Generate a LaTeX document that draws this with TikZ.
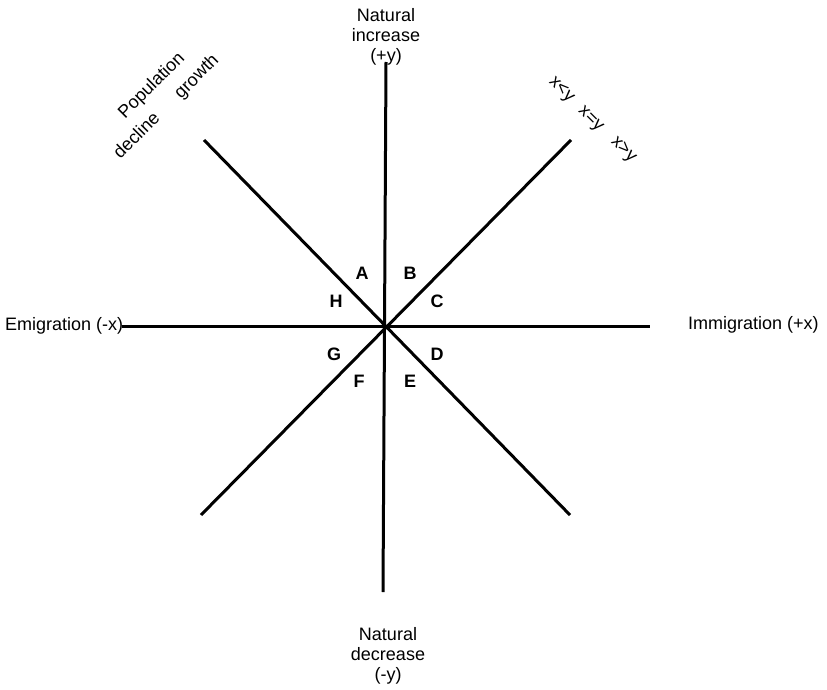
\documentclass[tikz,border=0pt]{standalone}
\usepackage{fontspec}
\setmainfont{Liberation Sans}
\begin{document}
\begin{tikzpicture}[x=1pt,y=-1pt,
  axis/.style={line width=3pt,black},
  lbl/.style={font=\fontsize{18}{20}\selectfont,align=center,inner sep=0pt},
  sect/.style={font=\fontsize{18}{20}\selectfont\bfseries,inner sep=0pt}]
\useasboundingbox (0,0) rectangle (827,690);
\coordinate (O) at (385,326);
\coordinate (N) at (386,62);
\coordinate (S) at (383,592);
\coordinate (W) at (122,326);
\coordinate (E) at (650,326);
\coordinate (NW) at (204,140);
\coordinate (SE) at (570,515);
\coordinate (NE) at (571,140);
\coordinate (SW) at (201,515);
\draw[axis] (N) -- (S);
\draw[axis] (W) -- (E);
\draw[axis] (NW) -- (SE);
\draw[axis] (NE) -- (SW);
\node[lbl,anchor=north] (ni) at (386,8) {Natural\\increase\\(+y)};
\node[lbl,anchor=north] (nd) at (388,627) {Natural\\decrease\\(-y)};
\node[lbl,anchor=base west] (em) at (5,330) {Emigration (-x)};
\node[lbl,anchor=base west] (im) at (688,329) {Immigration (+x)};
\node[sect] (a) at (362,273) {A};
\node[sect] (b) at (410,273) {B};
\node[sect] (h) at (336,301) {H};
\node[sect] (c) at (437,301) {C};
\node[sect] (g) at (334,354) {G};
\node[sect] (d) at (437,354) {D};
\node[sect] (f) at (359,381) {F};
\node[sect] (e) at (410,381) {E};
\node[lbl,rotate=45] (pop) at (152,86) {Population};
\node[lbl,rotate=45] (dec) at (136,135) {decline};
\node[lbl,rotate=45] (gro) at (197,77) {growth};
\node[lbl,rotate=-45] (xl) at (561,90) {x<y};
\node[lbl,rotate=-45] (xe) at (590,120) {x=y};
\node[lbl,rotate=-45] (xg) at (623,150) {x>y};
\end{tikzpicture}
\end{document}
